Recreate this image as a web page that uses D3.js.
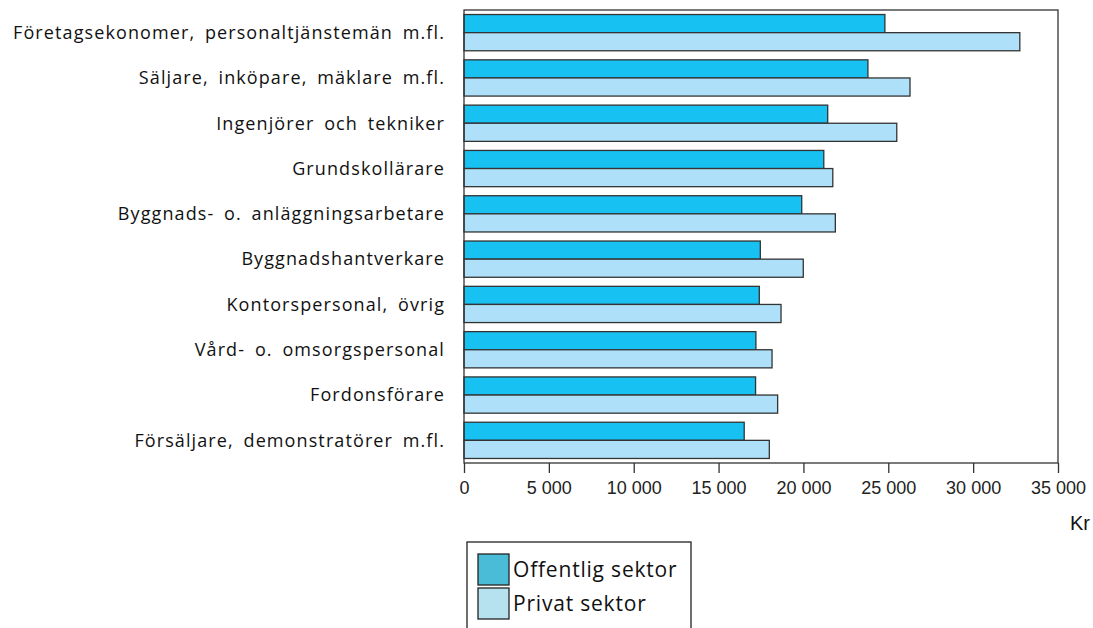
<!DOCTYPE html>
<html>
<head>
<meta charset="utf-8">
<script src="https://cdn.jsdelivr.net/npm/d3@7"></script>
<style>
  body { margin: 0; background: #fff; }
  svg { display: block; }
  .cat { font-family: "Open Sans", sans-serif; font-size: 18px; fill: #111; letter-spacing: 1.1px; word-spacing: 4px; }
  .tick text { font-family: "Liberation Sans", Arial, sans-serif; font-size: 18px; fill: #222; }
  .leg { font-family: "Open Sans", sans-serif; font-size: 21px; fill: #111; letter-spacing: 0.8px; }
  .unit { font-family: "Liberation Sans", Arial, sans-serif; font-size: 20px; fill: #111; }
</style>
</head>
<body>
<svg width="1093" height="628"></svg>
<script>
// occupations, top to bottom
const categories = [
  "Företagsekonomer, personaltjänstemän m.fl.",
  "Säljare, inköpare, mäklare m.fl.",
  "Ingenjörer och tekniker",
  "Grundskollärare",
  "Byggnads- o. anläggningsarbetare",
  "Byggnadshantverkare",
  "Kontorspersonal, övrig",
  "Vård- o. omsorgspersonal",
  "Fordonsförare",
  "Försäljare, demonstratörer m.fl."
];

const seriesNames = ["Offentlig sektor", "Privat sektor"];

// monthly salary, kr
const offentlig = [24800, 23800, 21430, 21200, 19900, 17460, 17400, 17200, 17180, 16510];
const privat = [32750, 26280, 25500, 21730, 21880, 19990, 18680, 18150, 18480, 17990];

const xTicks = [0, 5000, 10000, 15000, 20000, 25000, 30000, 35000];

const svg = d3.select("svg");

const margin = { top: 10, left: 464, right: 35, bottom: 165 };
const width = +svg.attr("width");
const height = +svg.attr("height");
const innerWidth = width - margin.left - margin.right;
const innerHeight = height - margin.top - margin.bottom;

const barColors = ["#17c1f1", "#aee1f9"];
const legendColors = ["#4bbcd8", "#b5e2ee"];

const data = categories.map((c, i) => ({ cat: c, values: [offentlig[i], privat[i]] }));

const xScale = d3.scaleLinear().domain([0, 35000]).range([0, innerWidth]);

const yScale = d3
  .scaleBand()
  .domain(categories)
  .range([0, innerHeight])
  .paddingInner(0.2)
  .paddingOuter(0.1);

const ySub = d3
  .scaleBand()
  .domain(d3.range(seriesNames.length))
  .range([0, yScale.bandwidth()]);

const g = svg
  .append("g")
  .attr("transform", `translate(${margin.left},${margin.top})`);

// bars
const groups = g
  .selectAll(".grp")
  .data(data)
  .enter()
  .append("g")
  .attr("class", "grp")
  .attr("transform", (d) => `translate(0,${yScale(d.cat)})`);

groups
  .selectAll("rect")
  .data((d) => d.values)
  .enter()
  .append("rect")
  .attr("x", 0)
  .attr("y", (d, i) => ySub(i))
  .attr("width", (d) => xScale(d))
  .attr("height", ySub.bandwidth())
  .attr("fill", (d, i) => barColors[i])
  .attr("stroke", "#333")
  .attr("stroke-width", 1.3);

// frame
g.append("rect")
  .attr("width", innerWidth)
  .attr("height", innerHeight)
  .attr("fill", "none")
  .attr("stroke", "#333")
  .attr("stroke-width", 1.3);

// x axis
const xAxis = d3
  .axisBottom(xScale)
  .tickValues(xTicks)
  .tickSize(10)
  .tickPadding(8)
  .tickFormat((d) => d3.format(",")(d).replace(",", " "));

const xAxisG = g
  .append("g")
  .attr("transform", `translate(0,${innerHeight})`)
  .call(xAxis);
xAxisG.select(".domain").remove();
xAxisG.selectAll(".tick line").attr("stroke", "#333").attr("stroke-width", 1.3);

// category labels
g.selectAll(".cat")
  .data(categories)
  .enter()
  .append("text")
  .attr("class", "cat")
  .attr("x", -19)
  .attr("y", (d) => yScale(d) + yScale.bandwidth() / 2)
  .attr("dy", "0.35em")
  .attr("text-anchor", "end")
  .text((d) => d);

svg.append("text")
  .attr("class", "unit")
  .attr("x", 1090)
  .attr("y", 530)
  .attr("text-anchor", "end")
  .text("Kr");

// legend
const legend = svg.append("g").attr("transform", "translate(467,542)");
legend.append("rect")
  .attr("width", 224)
  .attr("height", 120)
  .attr("fill", "none")
  .attr("stroke", "#222")
  .attr("stroke-width", 1.3);

const items = legend
  .selectAll(".item")
  .data(seriesNames)
  .enter()
  .append("g")
  .attr("transform", (d, i) => `translate(11,${12 + i * 34})`);

items.append("rect")
  .attr("width", 31)
  .attr("height", 31)
  .attr("fill", (d, i) => legendColors[i])
  .attr("stroke", "#222")
  .attr("stroke-width", 1.3);

items.append("text")
  .attr("class", "leg")
  .attr("x", 35)
  .attr("y", 16)
  .attr("dy", "0.35em")
  .text((d) => d);
</script>
</body>
</html>
